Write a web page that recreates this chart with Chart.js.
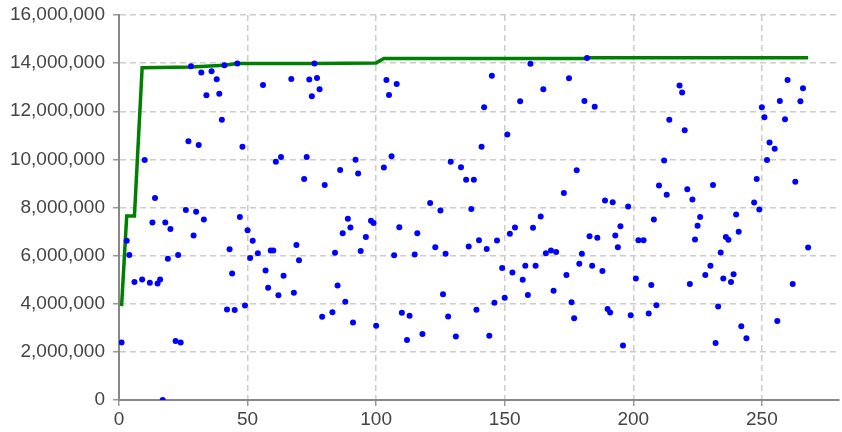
<!DOCTYPE html>
<html>
<head>
<meta charset="utf-8">
<script src="https://cdn.jsdelivr.net/npm/chart.js@4"></script>
<style>
  html, body { margin: 0; padding: 0; background: #fff; }
  #wrap { width: 842px; height: 432px; }
</style>
</head>
<body>
<div id="wrap"><canvas id="grafico"></canvas></div>
<script>
// puntos azules (x, valor en millones)
const puntosX = [1, 3, 4, 6, 9, 10, 12, 13, 14, 15, 16, 17, 18, 19, 20, 22, 23, 24, 26, 27, 28, 29, 30, 31, 32, 33, 34, 36, 38, 39, 40, 41, 42, 43, 44, 45, 46, 47,
  48, 49, 50, 51, 52, 54, 56, 57, 58, 59, 60, 61, 62, 63, 64, 67, 68, 69, 70, 72, 73, 74, 75, 76, 77, 78, 79, 80, 83, 84, 85, 86, 87, 88, 89, 90, 91, 92, 93, 94, 96,
  98, 99, 100, 103, 104, 105, 106, 107, 108, 109, 110, 112, 113, 115, 116, 118, 121, 123, 125, 126, 127, 128, 129, 131, 133, 135, 136, 137, 138, 139, 140, 141, 142, 143, 144,
  145, 146, 147, 149, 150, 151, 152, 153, 154, 156, 157, 158, 159, 160, 161, 162, 164, 165, 166, 168, 169, 170, 173, 174, 175, 176, 177, 178, 179, 180, 181, 182, 183, 184, 185, 186, 188, 189, 190, 191, 192,
  193, 194, 195, 196, 198, 199, 201, 202, 204, 206, 207, 208, 209, 210, 212, 213, 214, 218, 219, 220, 221, 222, 223, 224, 225, 226, 228, 230, 231, 232, 233, 234, 235, 236, 237, 238, 239, 240, 241,
  242, 244, 247, 248, 249, 250, 251, 252, 253, 255, 256, 257, 259, 260, 262, 263, 265, 266, 268];
const puntosY = [2.39, 6.62, 6.03, 4.90, 5.01, 9.97, 4.87, 7.38, 8.40, 4.84, 5.01, 0, 7.38, 5.87, 7.11, 2.45, 6.03, 2.39, 7.90, 10.75, 13.87, 6.84, 7.82, 10.60, 13.61, 7.50, 12.66, 13.66, 13.33, 12.73, 11.65, 13.91, 3.76, 6.27, 5.26, 3.74, 13.98, 7.61,
  10.52, 3.93, 7.05, 5.90, 6.62, 6.10, 13.09, 5.38, 4.66, 6.21, 6.21, 9.90, 4.35, 10.10, 5.16, 13.34, 4.46, 6.44, 5.81, 9.18, 10.10, 13.32, 12.62, 13.98, 13.38, 12.91, 3.46, 8.94, 3.65, 6.12, 4.76, 9.56, 6.93, 4.08, 7.53, 7.17, 3.22, 9.98, 9.41, 6.19, 6.77,
  7.45, 7.36, 3.09, 9.66, 13.30, 12.68, 10.13, 6.02, 13.13, 7.18, 3.63, 2.49, 3.50, 6.05, 6.93, 2.74, 8.19, 6.35, 7.88, 4.40, 6.08, 3.47, 9.90, 2.64, 9.67, 9.15, 6.38, 7.94, 9.15, 3.75, 6.64, 10.52, 12.17, 6.28, 2.67,
  13.48, 4.04, 6.63, 5.49, 4.25, 11.03, 6.91, 5.30, 7.17, 12.42, 5.00, 5.58, 4.36, 13.97, 7.16, 5.58, 7.63, 12.91, 6.10, 6.21, 4.54, 6.15, 8.60, 5.20, 13.37, 4.06, 3.40, 9.55, 5.66, 6.08, 12.43, 14.21, 6.81, 5.58, 12.19, 6.74, 5.36, 8.29, 3.78, 3.64, 8.22,
  6.84, 6.35, 7.22, 2.26, 8.04, 3.52, 5.05, 6.64, 6.64, 3.60, 4.78, 7.50, 3.94, 8.91, 9.95, 8.53, 11.65, 13.07, 12.78, 11.21, 8.76, 4.82, 8.33, 6.67, 7.24, 7.61, 5.19, 5.58, 8.93, 2.37, 3.89, 6.13, 5.05, 6.77, 6.66, 4.90, 5.23, 7.71, 6.99,
  3.06, 2.57, 8.21, 9.18, 7.92, 12.17, 11.75, 9.97, 10.70, 10.44, 3.28, 12.43, 11.67, 13.30, 4.82, 9.07, 12.42, 12.96, 6.34];

// linea verde (mejor valor), vertices
const lineaX = [1, 3, 6, 9, 28, 41, 46, 76, 100, 103, 181, 182, 268];
const lineaY = [3.90, 7.65, 7.65, 13.81, 13.84, 13.91, 13.98, 13.98, 14.01, 14.19, 14.19, 14.22, 14.22];

const ticksX = [0, 50, 100, 150, 200, 250];

const M = 1000000;
const grafico = document.getElementById('grafico');

new Chart(grafico, {
  type: 'scatter',
  data: {
    datasets: [{
      label: 'Puntos',
      data: puntosX.map((x, i) => ({ x: x, y: puntosY[i] * M })),
      backgroundColor: '#0000ff',
      borderWidth: 0,
      pointRadius: 3,
      pointHoverRadius: 3
    }, {
      label: 'Mejor',
      data: lineaX.map((x, i) => ({ x: x, y: lineaY[i] * M })),
      showLine: true,
      borderColor: '#008000',
      borderWidth: 3.5,
      pointRadius: 0,
      tension: 0,
      fill: false
    }]
  },
  options: {
    responsive: true,
    maintainAspectRatio: false,
    animation: false,
    layout: { padding: { top: 15, right: 2, left: 0, bottom: 0 } },
    plugins: {
      legend: { display: false },
      tooltip: { enabled: false }
    },
    scales: {
      x: {
        type: 'linear',
        min: 0,
        max: 280,
        afterBuildTicks: (scale) => { scale.ticks = ticksX.map(v => ({ value: v })); },
        afterFit: (scale) => { scale.height = 32; scale.paddingLeft = 0; scale.paddingRight = 0; },
        ticks: { color: '#444', font: { size: 19, family: 'Arial, "Liberation Sans"' }, padding: 2, maxRotation: 0 },
        grid: { color: '#cccccc', lineWidth: 1.5, tickLength: 6, tickColor: '#999', tickBorderDash: [] },
        border: { color: '#888', width: 2, dash: [6, 4] }
      },
      y: {
        min: 0,
        max: 16 * M,
        afterFit: (scale) => { scale.width = 119; scale.paddingTop = 0; scale.paddingBottom = 0; },
        ticks: {
          stepSize: 2 * M,
          color: '#444',
          font: { size: 19, family: 'Arial, "Liberation Sans"' },
          padding: 8,
          callback: (v) => v.toLocaleString('en-US')
        },
        grid: { color: '#cccccc', lineWidth: 1.5, tickLength: 6, tickColor: '#999', tickBorderDash: [] },
        border: { color: '#888', width: 2, dash: [6, 4] }
      }
    }
  }
});
</script>
</body>
</html>
